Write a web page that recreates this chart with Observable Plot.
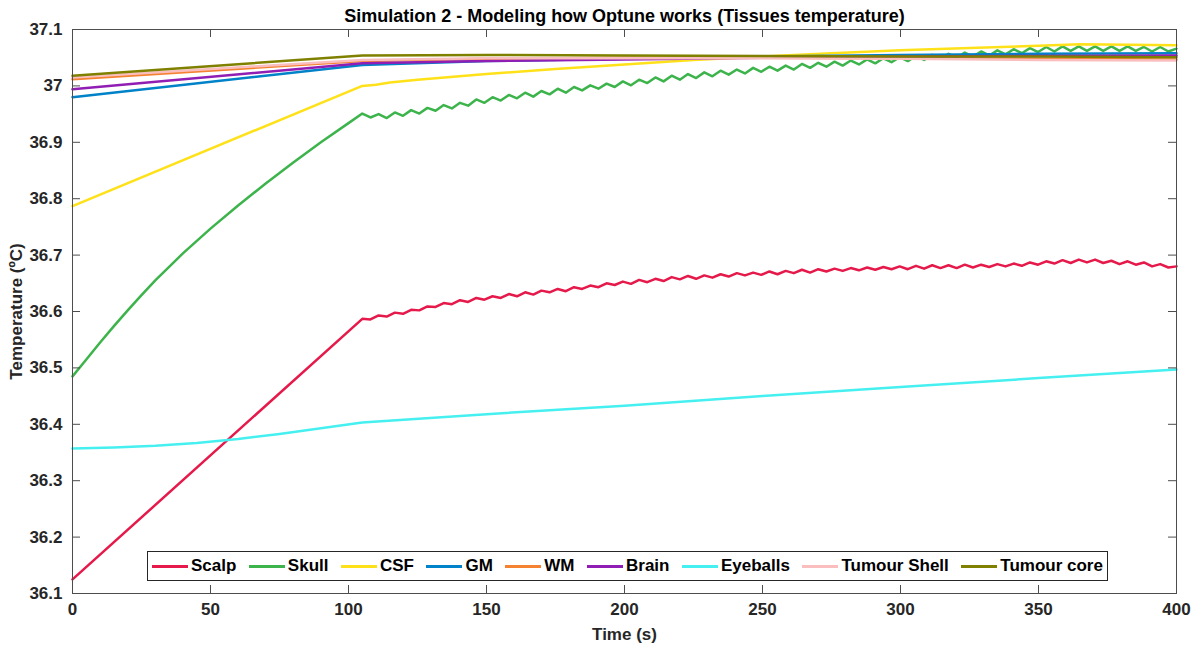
<!DOCTYPE html>
<html>
<head>
<meta charset="utf-8">
<script src="https://cdn.jsdelivr.net/npm/d3@7"></script>
<script src="https://cdn.jsdelivr.net/npm/@observablehq/plot@0.6"></script>
<style>
  body { margin: 0; background: #fff; }
  #wrap { position: relative; width: 1201px; height: 651px; font-family: "Liberation Sans", Arial, sans-serif; }
  #legend {
    position: absolute; left: 147px; top: 551px; width: 961px; height: 30px;
    box-sizing: border-box; border: 1px solid #262626; background: #fff;
    display: flex; align-items: center; justify-content: space-between;
    padding: 0 4px 0 4px; font-weight: bold; font-size: 17px; color: #000;
  }
  .item { display: flex; align-items: center; white-space: nowrap; }
  .sw { width: 36px; height: 3px; margin-right: 3px; }
</style>
</head>
<body>
<div id="wrap"><div id="legend"></div></div>
<script>
// Series names and colours (draw order = legend order)
const seriesNames = ["Scalp", "Skull", "CSF", "GM", "WM", "Brain", "Eyeballs", "Tumour Shell", "Tumour core"];
const seriesColors = ["#e6194b", "#3cb44b", "#ffe119", "#0082c8", "#f58231", "#911eb4", "#46f0f0", "#fabebe", "#808000"];

// Axis ticks
const xTicks = [0, 50, 100, 150, 200, 250, 300, 350, 400];
const yTicks = [36.1, 36.2, 36.3, 36.4, 36.5, 36.6, 36.7, 36.8, 36.9, 37, 37.1];
const yTickLabels = ["36.1", "36.2", "36.3", "36.4", "36.5", "36.6", "36.7", "36.8", "36.9", "37", "37.1"];

const titleText = "Simulation 2 - Modeling how Optune works (Tissues temperature)";
const xLabel = "Time (s)";
const yLabel = "Temperature (ºC)";

// Warm-up phase (0–105 s) of the two oscillating tissues
const scalpRampT = [0, 105];
const scalpRampV = [36.125, 36.587];
const skullRampT = [0, 5, 10, 15, 20, 25, 30, 40, 50, 60, 70, 80, 90, 100, 105];
const skullRampV = [36.485, 36.515, 36.545, 36.574, 36.602, 36.629, 36.655, 36.703, 36.747, 36.788, 36.827, 36.864, 36.900, 36.934, 36.951];

// Field-on phase, sampled every 2.95 s from 105 s to 400 s (10 samples per row)
const oscStart = 105, oscStep = 2.95;
const scalpOsc = [
  36.587, 36.586, 36.593, 36.591, 36.598, 36.596, 36.603, 36.602, 36.609, 36.608,
  36.615, 36.613, 36.620, 36.617, 36.624, 36.621, 36.627, 36.624, 36.631, 36.627,
  36.634, 36.630, 36.637, 36.634, 36.640, 36.636, 36.643, 36.640, 36.646, 36.643,
  36.650, 36.647, 36.653, 36.649, 36.656, 36.652, 36.658, 36.654, 36.661, 36.657,
  36.663, 36.658, 36.664, 36.660, 36.666, 36.662, 36.668, 36.664, 36.669, 36.665,
  36.671, 36.666, 36.672, 36.668, 36.674, 36.669, 36.675, 36.671, 36.676, 36.672,
  36.677, 36.673, 36.678, 36.674, 36.679, 36.675, 36.680, 36.675, 36.681, 36.676,
  36.682, 36.677, 36.682, 36.677, 36.683, 36.678, 36.683, 36.679, 36.684, 36.680,
  36.685, 36.681, 36.687, 36.683, 36.689, 36.685, 36.691, 36.686, 36.692, 36.687,
  36.692, 36.686, 36.690, 36.684, 36.689, 36.683, 36.687, 36.680, 36.684, 36.678,
  36.680
];
const skullOsc = [
  36.951, 36.944, 36.950, 36.943, 36.953, 36.947, 36.957, 36.951, 36.961, 36.956,
  36.966, 36.960, 36.970, 36.965, 36.976, 36.970, 36.980, 36.974, 36.984, 36.978,
  36.988, 36.981, 36.991, 36.985, 36.995, 36.988, 36.998, 36.992, 37.001, 36.995,
  37.004, 36.998, 37.008, 37.001, 37.011, 37.005, 37.015, 37.008, 37.018, 37.011,
  37.021, 37.014, 37.024, 37.017, 37.027, 37.020, 37.029, 37.022, 37.032, 37.025,
  37.034, 37.027, 37.036, 37.029, 37.039, 37.032, 37.041, 37.034, 37.043, 37.036,
  37.045, 37.038, 37.047, 37.040, 37.049, 37.042, 37.051, 37.044, 37.053, 37.046,
  37.055, 37.048, 37.057, 37.050, 37.059, 37.052, 37.061, 37.054, 37.063, 37.056,
  37.065, 37.058, 37.067, 37.060, 37.069, 37.061, 37.070, 37.062, 37.070, 37.062,
  37.070, 37.062, 37.070, 37.062, 37.070, 37.062, 37.069, 37.061, 37.069, 37.061,
  37.066
];

// Smoother tissues
const csfT = [0, 105, 110, 115, 125, 150, 175, 200, 225, 250, 275, 300, 325, 350, 365, 400];
const csfV = [36.787, 37.000, 37.002, 37.006, 37.011, 37.021, 37.030, 37.038, 37.046, 37.052, 37.058, 37.063, 37.067, 37.071, 37.074, 37.072];
const deepT = [0, 105, 150, 200, 250, 300, 350, 400];
const gmV = [36.980, 37.037, 37.044, 37.048, 37.052, 37.055, 37.057, 37.058];
const wmV = [37.012, 37.044, 37.048, 37.050, 37.050, 37.049, 37.048, 37.047];
const brainV = [36.994, 37.040, 37.044, 37.047, 37.050, 37.052, 37.053, 37.054];
const shellV = [37.015, 37.046, 37.049, 37.049, 37.049, 37.048, 37.046, 37.045];
const coreV = [37.018, 37.054, 37.055, 37.054, 37.053, 37.052, 37.052, 37.051];
const eyeT = [0, 15, 30, 45, 60, 75, 90, 105, 150, 200, 250, 300, 350, 400];
const eyeV = [36.357, 36.359, 36.362, 36.367, 36.374, 36.383, 36.393, 36.403, 36.418, 36.433, 36.450, 36.466, 36.482, 36.497];

// Assemble a long table
const rows = [];
const push = (name, ts, vs) => ts.forEach((t, i) => rows.push({series: name, t, v: vs[i]}));
const oscTimes = scalpOsc.map((_, i) => oscStart + i * oscStep);
push("Scalp", scalpRampT.slice(0, -1), scalpRampV.slice(0, -1));
push("Scalp", oscTimes, scalpOsc);
push("Skull", skullRampT.slice(0, -1), skullRampV.slice(0, -1));
push("Skull", oscTimes, skullOsc);
push("CSF", csfT, csfV);
push("GM", deepT, gmV);
push("WM", deepT, wmV);
push("Brain", deepT, brainV);
push("Eyeballs", eyeT, eyeV);
push("Tumour Shell", deepT, shellV);
push("Tumour core", deepT, coreV);

const W = 1201, H = 651;
const mL = 72, mR = 25, mT = 29, mB = 58;
const plotW = W - mL - mR, plotH = H - mT - mB;
const tickLen = 8;

const chart = Plot.plot({
  width: W, height: H,
  marginLeft: mL, marginRight: mR, marginTop: mT, marginBottom: mB,
  style: {fontFamily: "'Liberation Sans', Arial, sans-serif", fontSize: "17px", fontWeight: "bold", color: "#262626", background: "#fff", overflow: "visible"},
  x: {domain: [0, 400]},
  y: {domain: [36.1, 37.1]},
  color: {domain: seriesNames, range: seriesColors},
  marks: [
    Plot.line(rows, {x: "t", y: "v", z: "series", stroke: "series", strokeWidth: 2.5, strokeLinejoin: "round"}),
    Plot.frame({stroke: "#4d4d4d", strokeWidth: 1}),
    // inward ticks on all four sides
    Plot.tickX(xTicks, {x: d => d, stroke: "#4d4d4d", insetTop: plotH - tickLen}),
    Plot.tickX(xTicks, {x: d => d, stroke: "#4d4d4d", insetBottom: plotH - tickLen}),
    Plot.tickY(yTicks, {y: d => d, stroke: "#4d4d4d", insetRight: plotW - tickLen}),
    Plot.tickY(yTicks, {y: d => d, stroke: "#4d4d4d", insetLeft: plotW - tickLen}),
    Plot.axisX(xTicks, {tickSize: 0, tickPadding: 9, label: null, fill: "#262626"}),
    Plot.axisY(yTicks, {tickSize: 0, tickPadding: 10, label: null, fill: "#262626", tickFormat: d => yTickLabels[yTicks.indexOf(d)]}),
    Plot.text([titleText], {frameAnchor: "top", lineAnchor: "middle", dy: -13, fontSize: 18, fontWeight: "bold", fill: "#000"}),
    Plot.text([xLabel], {frameAnchor: "bottom", lineAnchor: "middle", dy: 41, fontSize: 17, fontWeight: "bold", fill: "#262626"}),
    Plot.text([yLabel], {frameAnchor: "left", textAnchor: "middle", lineAnchor: "middle", dx: -56, rotate: -90, fontSize: 17, fontWeight: "bold", fill: "#262626"})
  ]
});

const wrap = document.getElementById("wrap");
wrap.insertBefore(chart, wrap.firstChild);

const legend = document.getElementById("legend");
seriesNames.forEach((name, i) => {
  const item = document.createElement("div");
  item.className = "item";
  const sw = document.createElement("span");
  sw.className = "sw";
  sw.style.background = seriesColors[i];
  const label = document.createElement("span");
  label.textContent = name;
  item.appendChild(sw);
  item.appendChild(label);
  legend.appendChild(item);
});
</script>
</body>
</html>
